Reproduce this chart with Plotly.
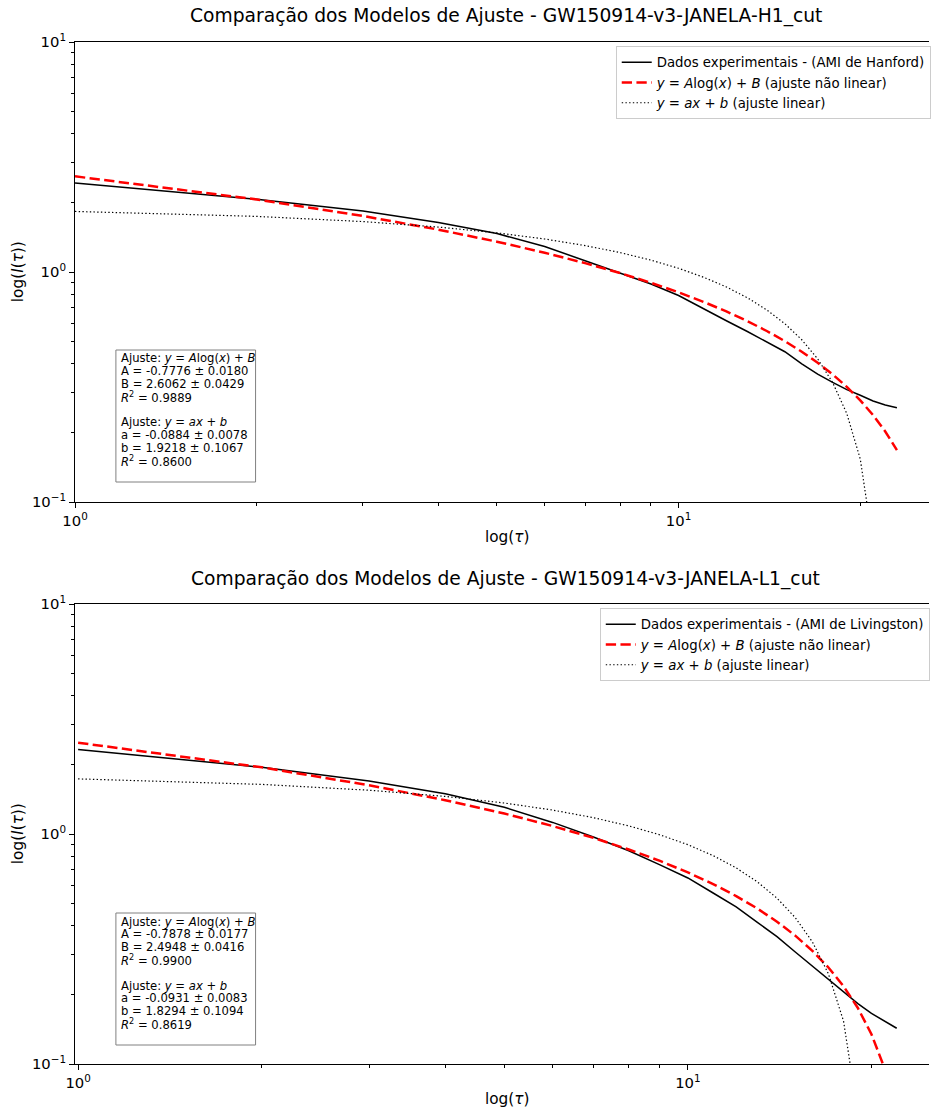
import numpy as np
import plotly.graph_objects as go

# ---------------- data ----------------
tau_h1 = [1, 2, 3, 4, 5, 6, 7, 8, 9, 10, 11, 12, 13, 14, 15, 16, 17, 18, 19, 20, 21, 22, 23]
ami_h1 = [2.44, 2.07, 1.84, 1.64, 1.47, 1.29, 1.12, 0.993, 0.887, 0.790, 0.690, 0.614,
          0.551, 0.496, 0.450, 0.399, 0.360, 0.331, 0.308, 0.291, 0.275, 0.264, 0.257]

tau_l1 = [1, 2, 3, 4, 5, 6, 7, 8, 9, 10, 11, 12, 13, 14, 15, 16, 17, 18, 19, 20, 21, 22]
ami_l1 = [2.33, 1.95, 1.70, 1.497, 1.307, 1.123, 0.971, 0.846, 0.734, 0.644, 0.554, 0.482,
          0.413, 0.358, 0.307, 0.266, 0.234, 0.205, 0.183, 0.166, 0.154, 0.143]

# fit parameters (value, uncertainty) and R^2
fit_h1 = dict(A=(-0.7776, 0.0180), B=(2.6062, 0.0429), R2_log=0.9889,
              a=(-0.0884, 0.0078), b=(1.9218, 0.1067), R2_lin=0.8600)
fit_l1 = dict(A=(-0.7878, 0.0177), B=(2.4948, 0.0416), R2_log=0.9900,
              a=(-0.0931, 0.0083), b=(1.8294, 0.1094), R2_lin=0.8619)

titles = ["Comparação dos Modelos de Ajuste - GW150914-v3-JANELA-H1_cut",
          "Comparação dos Modelos de Ajuste - GW150914-v3-JANELA-L1_cut"]
detector_names = ["Hanford", "Livingston"]

# ---------------- layout helpers ----------------
W, H = 931, 1111
ML, MR, MT, MB = 75, 0, 42, 47
PW = W - ML - MR
PH = H - MT - MB


def fx(p):
    return (p - ML) / PW


def fy(p):
    return (H - MB - p) / PH


FONT = "DejaVu Sans"
fig = go.Figure()


def model_log(t, A, B):
    t = np.asarray(t, dtype=float)
    return A * np.log(t) + B


def model_lin(t, a, b):
    t = np.asarray(t, dtype=float)
    y = a * t + b
    return np.where(y > 0, y, np.nan)


panels = [
    dict(tau=tau_h1, ami=ami_h1, fit=fit_h1, xa="x", ya="y", leg="legend", name=detector_names[0]),
    dict(tau=tau_l1, ami=ami_l1, fit=fit_l1, xa="x2", ya="y2", leg="legend2", name=detector_names[1]),
]

for p in panels:
    f = p["fit"]
    fig.add_trace(go.Scatter(
        x=p["tau"], y=p["ami"], mode="lines", xaxis=p["xa"], yaxis=p["ya"], legend=p["leg"],
        line=dict(color="black", width=1.5),
        name=f"Dados experimentais - (AMI de {p['name']})"))
    fig.add_trace(go.Scatter(
        x=p["tau"], y=model_log(p["tau"], f["A"][0], f["B"][0]), mode="lines",
        xaxis=p["xa"], yaxis=p["ya"], legend=p["leg"],
        line=dict(color="red", width=2.5, dash="10.3px,4.4px"),
        name="<i>y</i> = <i>A</i>log(<i>x</i>) + <i>B</i> (ajuste não linear)"))
    fig.add_trace(go.Scatter(
        x=p["tau"], y=model_lin(p["tau"], f["a"][0], f["b"][0]), mode="lines",
        xaxis=p["xa"], yaxis=p["ya"], legend=p["leg"],
        line=dict(color="black", width=1.2, dash="1.4px,2.3px"),
        name="<i>y</i> = <i>ax</i> + <i>b</i> (ajuste linear)"))

xmajor = [1, 10]
xmajor_text = ["10<sup>0</sup>", "10<sup>1</sup>"]
xminor = [2, 3, 4, 5, 6, 7, 8, 9, 20]
ymajor = [0.1, 1, 10]
ymajor_text = ["10<sup>\u22121</sup>", "10<sup>0</sup>", "10<sup>1</sup>"]
yminor = [0.2, 0.3, 0.4, 0.5, 0.6, 0.7, 0.8, 0.9, 2, 3, 4, 5, 6, 7, 8, 9]

TICK_SIZE = 14.8


def xaxis_cfg(rng, anchor):
    return dict(type="log", range=rng, domain=[0, 1], anchor=anchor,
                showgrid=False, zeroline=False, showline=True, linecolor="black", linewidth=1,
                mirror=True, ticks="outside", ticklen=5, tickwidth=1, tickcolor="black",
                tickmode="array", tickvals=xmajor, ticktext=xmajor_text,
                tickfont=dict(family=FONT, size=TICK_SIZE, color="black"),
                minor=dict(tickmode="array", tickvals=xminor, ticks="outside", ticklen=3,
                           tickwidth=0.8, tickcolor="black", showgrid=False))


def yaxis_cfg(dom, anchor):
    return dict(type="log", range=[-1, 1], domain=dom, anchor=anchor,
                showgrid=False, zeroline=False, showline=True, linecolor="black", linewidth=1,
                mirror=False, ticks="outside", ticklen=5, tickwidth=1, tickcolor="black",
                tickmode="array", tickvals=ymajor, ticktext=ymajor_text,
                tickfont=dict(family=FONT, size=TICK_SIZE, color="black"),
                minor=dict(tickmode="array", tickvals=yminor, ticks="outside", ticklen=3,
                           tickwidth=0.8, tickcolor="black", showgrid=False))


top_plot = (42, 502)
bot_plot = (604, 1064)

LEGEND_FONT = dict(family=FONT, size=13.3, color="black")

fig.update_layout(
    width=W, height=H, margin=dict(l=ML, r=MR, t=MT, b=MB),
    paper_bgcolor="white", plot_bgcolor="white",
    font=dict(family=FONT, color="black"),
    xaxis=xaxis_cfg([0, 1.4149], "y"),
    yaxis=yaxis_cfg([fy(top_plot[1]), fy(top_plot[0])], "x"),
    xaxis2=xaxis_cfg([-0.0051, 1.3954], "y2"),
    yaxis2=yaxis_cfg([fy(bot_plot[1]), fy(bot_plot[0])], "x2"),
    legend=dict(x=fx(617), y=fy(46), xanchor="left", yanchor="top",
                bgcolor="rgba(255,255,255,0.8)", bordercolor="#cccccc", borderwidth=1,
                font=LEGEND_FONT),
    legend2=dict(x=fx(601), y=fy(608), xanchor="left", yanchor="top",
                 bgcolor="rgba(255,255,255,0.8)", bordercolor="#cccccc", borderwidth=1,
                 font=LEGEND_FONT),
)

annotations = []
shapes = []

# titles and axis labels
for title, (ptop, pbot), tcy, xlab_y in [(titles[0], top_plot, 16, 537),
                                         (titles[1], bot_plot, 579, 1099)]:
    annotations.append(dict(text=title, xref="paper", yref="paper", x=fx(507), y=fy(tcy),
                            xanchor="center", yanchor="middle", showarrow=False,
                            font=dict(family=FONT, size=18.7, color="black")))
    annotations.append(dict(text="log(<i>τ</i>)", xref="paper", yref="paper", x=fx(508), y=fy(xlab_y),
                            xanchor="center", yanchor="middle", showarrow=False,
                            font=dict(family=FONT, size=15.3, color="black")))
    annotations.append(dict(text="log(<i>I</i>(<i>τ</i>))", xref="paper", yref="paper",
                            x=fx(18), y=fy((ptop + pbot) / 2), textangle=-90,
                            xanchor="center", yanchor="middle", showarrow=False,
                            font=dict(family=FONT, size=15.3, color="black")))


# fit summary boxes
def fit_lines(f):
    return [
        "Ajuste: <i>y</i> = <i>A</i>log(<i>x</i>) + <i>B</i>",
        f"A = {f['A'][0]:.4f} ± {f['A'][1]:.4f}",
        f"B = {f['B'][0]:.4f} ± {f['B'][1]:.4f}",
        f"<i>R</i><sup>2</sup> = {f['R2_log']:.4f}",
        "",
        "Ajuste: <i>y</i> = <i>ax</i> + <i>b</i>",
        f"a = {f['a'][0]:.4f} ± {f['a'][1]:.4f}",
        f"b = {f['b'][0]:.4f} ± {f['b'][1]:.4f}",
        f"<i>R</i><sup>2</sup> = {f['R2_lin']:.4f}",
    ]


line_h = 12.8
for f, box_top in [(fit_h1, 350), (fit_l1, 913)]:
    box_bot = box_top + 132
    shapes.append(dict(type="rect", xref="paper", yref="paper",
                       x0=fx(116), x1=fx(256), y0=fy(box_bot), y1=fy(box_top),
                       line=dict(color="#808080", width=1), fillcolor="rgba(255,255,255,0.8)",
                       layer="above"))
    for i, txt in enumerate(fit_lines(f)):
        if not txt:
            continue
        cy = box_top + 8.5 + line_h * i
        annotations.append(dict(text=txt, xref="paper", yref="paper", x=fx(119), y=fy(cy),
                                xanchor="left", yanchor="middle", showarrow=False,
                                font=dict(family=FONT, size=11.6, color="black")))

fig.update_layout(annotations=annotations, shapes=shapes)
fig.write_html("out.html")
